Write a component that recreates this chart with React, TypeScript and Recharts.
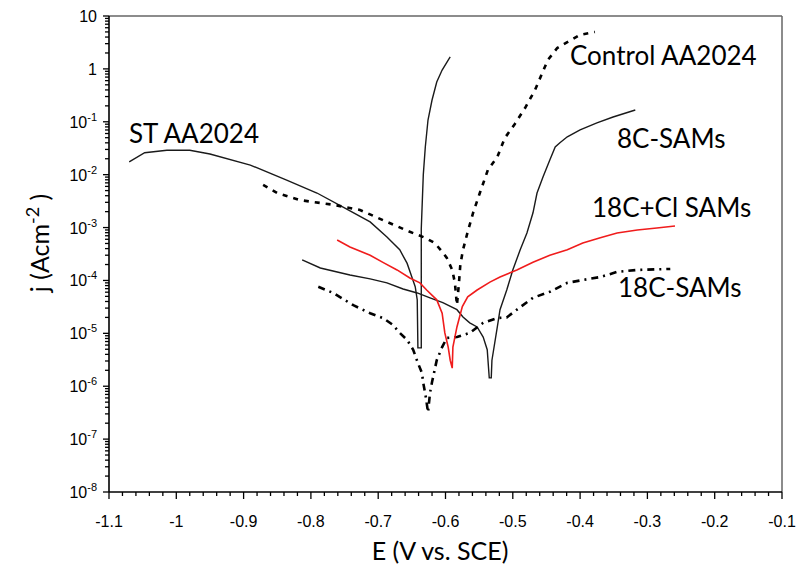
import React from "react";
import { LineChart, Line, XAxis, YAxis, ReferenceLine } from "recharts";

// potential (V vs. SCE) and current density (A/cm2)
const ST_E = [-1.07, -1.047, -1.014, -0.98, -0.95, -0.89, -0.836, -0.791, -0.746, -0.712, -0.687, -0.668, -0.657, -0.65, -0.645, -0.642, -0.641, -0.636, -0.636, -0.633, -0.63, -0.626, -0.62, -0.613, -0.605, -0.596, -0.593];
const ST_J = [0.0174, 0.026, 0.029, 0.029, 0.0246, 0.0152, 0.0079, 0.0045, 0.0022, 0.00128, 0.00066, 0.00038, 0.00021, 0.000116, 0.000076, 0.000043, 0.0000053, 0.0000053, 0.00094, 0.0099, 0.0334, 0.108, 0.258, 0.565, 0.95, 1.47, 1.68];

const CONTROL_E = [-0.871, -0.85, -0.816, -0.767, -0.727, -0.687, -0.653, -0.63, -0.616, -0.605, -0.598, -0.59, -0.586, -0.583, -0.58, -0.578, -0.574, -0.567, -0.559, -0.549, -0.537, -0.523, -0.512, -0.497, -0.482, -0.467, -0.455, -0.448, -0.434, -0.419, -0.4, -0.378];
const CONTROL_J = [0.0064, 0.0045, 0.0033, 0.0027, 0.00215, 0.00128, 0.00083, 0.00064, 0.00051, 0.00035, 0.000266, 0.000158, 0.00009, 0.000034, 0.00009, 0.000196, 0.00038, 0.00083, 0.0019, 0.0045, 0.0123, 0.0216, 0.049, 0.091, 0.18, 0.4, 0.91, 1.47, 2.48, 3.2, 4.4, 5.0];

const C8_E = [-0.813, -0.786, -0.742, -0.712, -0.687, -0.663, -0.642, -0.623, -0.604, -0.583, -0.574, -0.564, -0.553, -0.544, -0.538, -0.535, -0.532, -0.531, -0.523, -0.519, -0.509, -0.5, -0.489, -0.479, -0.47, -0.464, -0.455, -0.445, -0.437, -0.43, -0.419, -0.4, -0.375, -0.351, -0.318];
const C8_J = [2.45e-4, 1.72e-4, 1.27e-4, 1.07e-4, 9e-5, 6.9e-5, 5.8e-5, 4.7e-5, 3.8e-5, 2.8e-5, 2.04e-5, 1.58e-5, 1.32e-5, 8.5e-6, 4.9e-6, 1.44e-6, 1.44e-6, 3.1e-6, 1.32e-5, 2.8e-5, 6.6e-5, 1.58e-4, 3.8e-4, 7.9e-4, 1.9e-3, 4.5e-3, 9.1e-3, 0.019, 0.0334, 0.04, 0.052, 0.07, 0.095, 0.123, 0.167];

const C18CL_E = [-0.761, -0.742, -0.712, -0.693, -0.672, -0.653, -0.638, -0.628, -0.613, -0.605, -0.601, -0.596, -0.593, -0.59, -0.589, -0.583, -0.575, -0.567, -0.553, -0.534, -0.519, -0.494, -0.47, -0.445, -0.419, -0.396, -0.37, -0.345, -0.315, -0.286, -0.259];
const C18CL_J = [5.8e-4, 4.3e-4, 3.0e-4, 2.2e-4, 1.58e-4, 1.11e-4, 9e-5, 6.6e-5, 4.3e-5, 2.4e-5, 1.02e-5, 5.5e-6, 3.1e-6, 2.2e-6, 5.5e-6, 1.32e-5, 3.2e-5, 4.9e-5, 6.6e-5, 9.3e-5, 1.16e-4, 1.58e-4, 2.2e-4, 3.0e-4, 3.8e-4, 5.1e-4, 6.4e-4, 7.9e-4, 9e-4, 9.8e-4, 1.07e-3];

const C18_E = [-0.789, -0.767, -0.737, -0.712, -0.693, -0.678, -0.668, -0.657, -0.648, -0.641, -0.635, -0.633, -0.629, -0.626, -0.623, -0.62, -0.613, -0.605, -0.598, -0.583, -0.564, -0.544, -0.523, -0.509, -0.494, -0.47, -0.445, -0.419, -0.396, -0.37, -0.345, -0.315, -0.266];
const C18_J = [7.6e-5, 5.8e-5, 3.4e-5, 2.4e-5, 1.95e-5, 1.44e-5, 1.02e-5, 7.5e-6, 4.9e-6, 2.75e-6, 1.78e-6, 1.15e-6, 6e-7, 3.2e-7, 7.5e-7, 1.2e-6, 3.1e-6, 5.5e-6, 8.2e-6, 8.5e-6, 1.02e-5, 1.58e-5, 1.95e-5, 2.0e-5, 2.8e-5, 4.7e-5, 6.1e-5, 9e-5, 1.02e-4, 1.16e-4, 1.45e-4, 1.58e-4, 1.65e-4];

const X_MAJOR = [-1.1, -1, -0.9, -0.8, -0.7, -0.6, -0.5, -0.4, -0.3, -0.2, -0.1];
const Y_MAJOR = [1e-8, 1e-7, 1e-6, 1e-5, 1e-4, 1e-3, 1e-2, 1e-1, 1, 10];

const zip = (e: number[], j: number[]) => e.map((v, i) => ({ E: v, j: j[i] }));

const xMinor: number[] = [];
for (let i = 0; i <= 50; i++) {
  if (i % 5 !== 0) xMinor.push(+(-1.1 + i * 0.02).toFixed(2));
}
const yMinor: number[] = [];
for (let k = -8; k < 1; k++) {
  for (let m = 2; m <= 9; m++) yMinor.push(m * Math.pow(10, k));
}

const TICK_FONT = "'Liberation Sans', Arial, sans-serif";
const LABEL_FONT = "Lato, 'Open Sans', sans-serif";

function XTick({ x, y, payload }: any) {
  const v = payload.value;
  const major = X_MAJOR.some((m) => Math.abs(m - v) < 1e-9);
  return (
    <g>
      <line x1={x} x2={x} y1={y} y2={y + (major ? 7 : 4)} stroke="#000" strokeWidth={1.3} />
      {major && (
        <text x={x} y={y + 35} textAnchor="middle" fontSize={16} fontFamily={TICK_FONT} fill="#000">
          {String(v)}
        </text>
      )}
    </g>
  );
}

function YTick({ x, y, payload }: any) {
  const v = payload.value;
  const lg = Math.log10(v);
  const e = Math.round(lg);
  const major = Math.abs(lg - e) < 1e-6;
  return (
    <g>
      <line x1={x} x2={x - (major ? 6 : 4)} y1={y} y2={y} stroke="#000" strokeWidth={1.3} />
      {major && (
        <text x={x - 12} y={y + 6} textAnchor="end" fontSize={16} fontFamily={TICK_FONT} fill="#000">
          {e === 1 ? "10" : e === 0 ? "1" : (
            <>
              <tspan>10</tspan>
              <tspan dy={-7} fontSize={11}>{String(e)}</tspan>
            </>
          )}
        </text>
      )}
    </g>
  );
}

export default function App() {
  return (
    <div style={{ position: "absolute", left: 0, top: 0, background: "#fff" }}>
      <LineChart width={798} height={567} margin={{ top: 16, right: 16, left: 0, bottom: 0 }}>
        <XAxis
          type="number"
          dataKey="E"
          domain={[-1.1, -0.1]}
          ticks={[...X_MAJOR, ...xMinor]}
          interval={0}
          height={75}
          tickSize={0}
          tickMargin={0}
          tickLine={false}
          axisLine={{ stroke: "#000", strokeWidth: 1.6 }}
          tick={<XTick />}
          allowDataOverflow
        />
        <YAxis
          type="number"
          scale="log"
          domain={[1e-8, 10]}
          ticks={[...Y_MAJOR, ...yMinor]}
          interval={0}
          width={109}
          tickSize={0}
          tickMargin={0}
          tickLine={false}
          axisLine={{ stroke: "#000", strokeWidth: 1.6 }}
          tick={<YTick />}
          allowDataOverflow
        />
        <ReferenceLine y={10} stroke="#666" strokeWidth={1.5} />
        <ReferenceLine x={-0.1} stroke="#666" strokeWidth={1.5} />

        <Line data={zip(ST_E, ST_J)} dataKey="j" type="linear" stroke="#1a1a1a" strokeWidth={1.4} dot={false} isAnimationActive={false} />
        <Line data={zip(CONTROL_E, CONTROL_J)} dataKey="j" type="linear" stroke="#000" strokeWidth={2.6} strokeDasharray="5 6" dot={false} isAnimationActive={false} />
        <Line data={zip(C8_E, C8_J)} dataKey="j" type="linear" stroke="#1a1a1a" strokeWidth={1.4} dot={false} isAnimationActive={false} />
        <Line data={zip(C18_E, C18_J)} dataKey="j" type="linear" stroke="#000" strokeWidth={2.6} strokeDasharray="7 5 2 5" dot={false} isAnimationActive={false} />
        <Line data={zip(C18CL_E, C18CL_J)} dataKey="j" type="linear" stroke="#f01c1c" strokeWidth={1.6} dot={false} isAnimationActive={false} />

        <text x={129} y={143} fontSize={26} fontFamily={LABEL_FONT} fill="#000">ST AA2024</text>
        <text x={570} y={65} fontSize={26} fontFamily={LABEL_FONT} fill="#000">Control AA2024</text>
        <text x={617} y={148} fontSize={26} fontFamily={LABEL_FONT} fill="#000">8C-SAMs</text>
        <text x={592} y={217} fontSize={26} fontFamily={LABEL_FONT} fill="#000">18C+Cl SAMs</text>
        <text x={618} y={297} fontSize={26} fontFamily={LABEL_FONT} fill="#000">18C-SAMs</text>

        <text x={440} y={560} textAnchor="middle" fontSize={25} fontFamily={LABEL_FONT} fill="#000">E (V vs. SCE)</text>
        <text transform="translate(49,243) rotate(-90)" textAnchor="middle" fontSize={25} fontFamily={LABEL_FONT} fill="#000">
          <tspan>j (Acm</tspan>
          <tspan dy={-10} fontSize={18}>-2</tspan>
          <tspan dy={10}> )</tspan>
        </text>
      </LineChart>
    </div>
  );
}
